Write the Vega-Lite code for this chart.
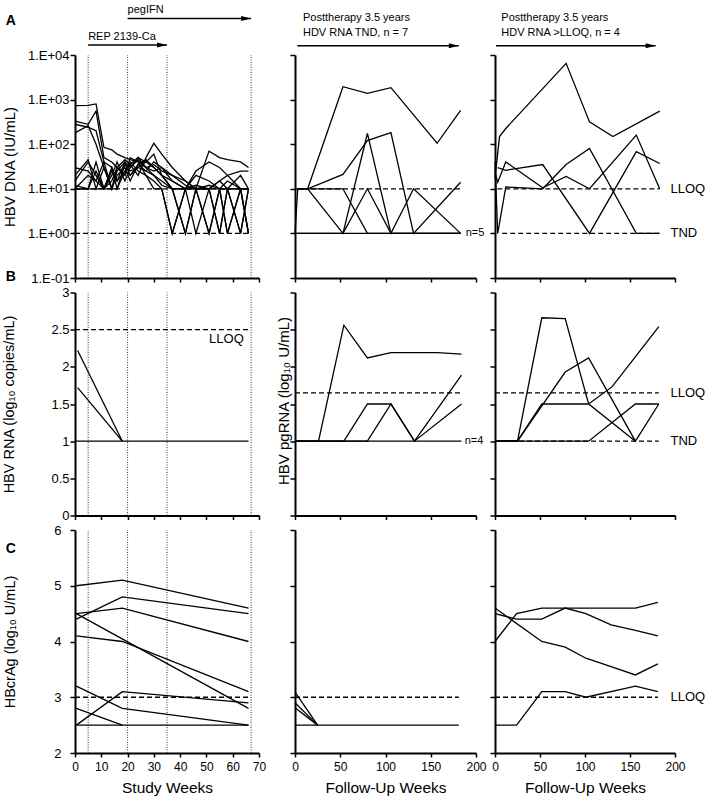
{
"$schema":"https://vega.github.io/schema/vega-lite/v6.json",
"padding":{"left":1,"top":4,"right":0,"bottom":0},
"config":{
 "font":"Liberation Sans",
 "view":{"stroke":null},
 "axis":{"domainColor":"#000","domainWidth":2,"tickColor":"#000","tickWidth":1.5,"tickSize":5,"labelColor":"#000","labelFontSize":13,"titleColor":"#000","titleFontWeight":"normal","grid":false},
 "axisX":{"tickSize":4,"labelFlush":false},
 "axisY":{"labelPadding":1}
},
"bounds":"flush",
"align":"each",
"columns":5,
"spacing":{"row":14.5,"column":0},
"concat":[
  {"width":184,"height":223,
   "encoding":{
    "x":{"field":"w","type":"quantitative","scale":{"domain":[0,70],"nice":false,"zero":false},"axis":{"values":[0,10,20,30,40,50,60,70],"labels":false,"title":null}},
    "y":{"field":"v","type":"quantitative","scale":{"type":"log","domain":[0.1,10000],"nice":false},"axis":{"values":[0.1,1,10,100,1000,10000],"labelExpr":"'1.E' + (datum.value < 1 ? '-' : '+') + '0' + format(abs(log(datum.value)/LN10), '.0f')","title":"HBV DNA (IU/mL)","titleFontSize":15,"titleX":-61,"titleBaseline":"alphabetic","titleAngle":270,"titleAlign":"center"}}
   },
   "layer":[
    {"data":{"values":[{"w":5,"v":0.1,"v2":10000},{"w":20,"v":0.1,"v2":10000},{"w":35,"v":0.1,"v2":10000},{"w":67,"v":0.1,"v2":10000}]},"mark":{"type":"rule","strokeDash":[1,1.5],"strokeWidth":1,"color":"#333"},"encoding":{"y2":{"field":"v2"}}},
    {"data":{"values":[{"w":0,"w2":67,"v":10},{"w":0,"w2":67,"v":1}]},"mark":{"type":"rule","strokeDash":[5,3],"strokeWidth":1.3,"color":"black"},"encoding":{"x2":{"field":"w2"}}},
    {"data":{"values":[
{"p":1,"w":0,"v":730},{"p":1,"w":5,"v":740},{"p":1,"w":8,"v":800},{"p":1,"w":11,"v":85},{"p":1,"w":14,"v":75},{"p":1,"w":16,"v":60},{"p":1,"w":19,"v":50},{"p":1,"w":21,"v":45},{"p":1,"w":24,"v":40},{"p":1,"w":27,"v":30},{"p":1,"w":30,"v":35},{"p":1,"w":33,"v":25},{"p":1,"w":37,"v":20},{"p":1,"w":42,"v":12},{"p":1,"w":46,"v":10},{"p":1,"w":51,"v":12},{"p":1,"w":55,"v":10},{"p":1,"w":58,"v":15},{"p":1,"w":63,"v":10},{"p":1,"w":66,"v":10},
{"p":2,"w":0,"v":330},{"p":2,"w":5,"v":280},{"p":2,"w":8,"v":550},{"p":2,"w":11,"v":50},{"p":2,"w":14,"v":40},{"p":2,"w":16,"v":30},{"p":2,"w":19,"v":45},{"p":2,"w":21,"v":35},{"p":2,"w":24,"v":50},{"p":2,"w":27,"v":40},{"p":2,"w":30,"v":30},{"p":2,"w":33,"v":20},{"p":2,"w":37,"v":10},{"p":2,"w":42,"v":1},{"p":2,"w":46,"v":10},{"p":2,"w":51,"v":10},{"p":2,"w":55,"v":1},{"p":2,"w":58,"v":10},{"p":2,"w":63,"v":10},{"p":2,"w":66,"v":10},
{"p":3,"w":0,"v":280},{"p":3,"w":5,"v":240},{"p":3,"w":8,"v":200},{"p":3,"w":11,"v":40},{"p":3,"w":14,"v":30},{"p":3,"w":16,"v":15},{"p":3,"w":19,"v":25},{"p":3,"w":21,"v":35},{"p":3,"w":24,"v":20},{"p":3,"w":27,"v":50},{"p":3,"w":30,"v":105},{"p":3,"w":33,"v":60},{"p":3,"w":37,"v":30},{"p":3,"w":42,"v":15},{"p":3,"w":46,"v":10},{"p":3,"w":51,"v":70},{"p":3,"w":55,"v":50},{"p":3,"w":58,"v":45},{"p":3,"w":63,"v":40},{"p":3,"w":66,"v":30},
{"p":4,"w":0,"v":180},{"p":4,"w":5,"v":260},{"p":4,"w":8,"v":100},{"p":4,"w":11,"v":30},{"p":4,"w":14,"v":10},{"p":4,"w":16,"v":25},{"p":4,"w":19,"v":40},{"p":4,"w":21,"v":30},{"p":4,"w":24,"v":45},{"p":4,"w":27,"v":30},{"p":4,"w":30,"v":25},{"p":4,"w":33,"v":30},{"p":4,"w":37,"v":15},{"p":4,"w":42,"v":10},{"p":4,"w":46,"v":25},{"p":4,"w":51,"v":40},{"p":4,"w":55,"v":30},{"p":4,"w":58,"v":20},{"p":4,"w":63,"v":25},{"p":4,"w":66,"v":25},
{"p":5,"w":0,"v":15},{"p":5,"w":5,"v":40},{"p":5,"w":8,"v":20},{"p":5,"w":11,"v":10},{"p":5,"w":14,"v":10},{"p":5,"w":16,"v":10},{"p":5,"w":19,"v":35},{"p":5,"w":21,"v":25},{"p":5,"w":24,"v":30},{"p":5,"w":27,"v":40},{"p":5,"w":30,"v":60},{"p":5,"w":33,"v":20},{"p":5,"w":37,"v":10},{"p":5,"w":42,"v":1},{"p":5,"w":46,"v":10},{"p":5,"w":51,"v":1},{"p":5,"w":55,"v":10},{"p":5,"w":58,"v":10},{"p":5,"w":63,"v":1},{"p":5,"w":66,"v":10},
{"p":6,"w":0,"v":10},{"p":6,"w":5,"v":10},{"p":6,"w":8,"v":40},{"p":6,"w":11,"v":10},{"p":6,"w":14,"v":15},{"p":6,"w":16,"v":30},{"p":6,"w":19,"v":20},{"p":6,"w":21,"v":40},{"p":6,"w":24,"v":25},{"p":6,"w":27,"v":20},{"p":6,"w":30,"v":15},{"p":6,"w":33,"v":10},{"p":6,"w":37,"v":1},{"p":6,"w":42,"v":10},{"p":6,"w":46,"v":1},{"p":6,"w":51,"v":10},{"p":6,"w":55,"v":10},{"p":6,"w":58,"v":1},{"p":6,"w":63,"v":10},{"p":6,"w":66,"v":1},
{"p":7,"w":0,"v":12},{"p":7,"w":5,"v":10},{"p":7,"w":8,"v":25},{"p":7,"w":11,"v":10},{"p":7,"w":14,"v":20},{"p":7,"w":16,"v":40},{"p":7,"w":19,"v":15},{"p":7,"w":21,"v":30},{"p":7,"w":24,"v":50},{"p":7,"w":27,"v":30},{"p":7,"w":30,"v":20},{"p":7,"w":33,"v":15},{"p":7,"w":37,"v":10},{"p":7,"w":42,"v":10},{"p":7,"w":46,"v":10},{"p":7,"w":51,"v":1},{"p":7,"w":55,"v":10},{"p":7,"w":58,"v":10},{"p":7,"w":63,"v":10},{"p":7,"w":66,"v":1},
{"p":8,"w":0,"v":20},{"p":8,"w":5,"v":45},{"p":8,"w":8,"v":10},{"p":8,"w":11,"v":30},{"p":8,"w":14,"v":10},{"p":8,"w":16,"v":20},{"p":8,"w":19,"v":30},{"p":8,"w":21,"v":15},{"p":8,"w":24,"v":35},{"p":8,"w":27,"v":45},{"p":8,"w":30,"v":30},{"p":8,"w":33,"v":20},{"p":8,"w":37,"v":15},{"p":8,"w":42,"v":10},{"p":8,"w":46,"v":12},{"p":8,"w":51,"v":10},{"p":8,"w":55,"v":15},{"p":8,"w":58,"v":10},{"p":8,"w":63,"v":20},{"p":8,"w":66,"v":10},
{"p":9,"w":0,"v":10},{"p":9,"w":5,"v":10},{"p":9,"w":8,"v":10},{"p":9,"w":11,"v":10},{"p":9,"w":14,"v":25},{"p":9,"w":16,"v":15},{"p":9,"w":19,"v":40},{"p":9,"w":21,"v":20},{"p":9,"w":24,"v":30},{"p":9,"w":27,"v":25},{"p":9,"w":30,"v":40},{"p":9,"w":33,"v":30},{"p":9,"w":37,"v":20},{"p":9,"w":42,"v":15},{"p":9,"w":46,"v":10},{"p":9,"w":51,"v":10},{"p":9,"w":55,"v":1},{"p":9,"w":58,"v":10},{"p":9,"w":63,"v":1},{"p":9,"w":66,"v":10},
{"p":10,"w":0,"v":30},{"p":10,"w":5,"v":25},{"p":10,"w":8,"v":15},{"p":10,"w":11,"v":40},{"p":10,"w":14,"v":10},{"p":10,"w":16,"v":30},{"p":10,"w":19,"v":20},{"p":10,"w":21,"v":50},{"p":10,"w":24,"v":40},{"p":10,"w":27,"v":20},{"p":10,"w":30,"v":10},{"p":10,"w":33,"v":10},{"p":10,"w":37,"v":1},{"p":10,"w":42,"v":10},{"p":10,"w":46,"v":10},{"p":10,"w":51,"v":10},{"p":10,"w":55,"v":15},{"p":10,"w":58,"v":20},{"p":10,"w":63,"v":10},{"p":10,"w":66,"v":10},
{"p":11,"w":0,"v":10},{"p":11,"w":5,"v":20},{"p":11,"w":8,"v":15},{"p":11,"w":11,"v":10},{"p":11,"w":14,"v":30},{"p":11,"w":16,"v":10},{"p":11,"w":19,"v":25},{"p":11,"w":21,"v":20},{"p":11,"w":24,"v":35},{"p":11,"w":27,"v":25},{"p":11,"w":30,"v":20},{"p":11,"w":33,"v":12},{"p":11,"w":37,"v":10},{"p":11,"w":42,"v":10},{"p":11,"w":46,"v":20},{"p":11,"w":51,"v":15},{"p":11,"w":55,"v":10},{"p":11,"w":58,"v":1},{"p":11,"w":63,"v":10},{"p":11,"w":66,"v":1}
    ]},"mark":{"type":"line","color":"black","strokeWidth":1.3},"encoding":{"detail":{"field":"p","type":"nominal"}}},
    {"data":{"values":[{"w":20,"v":87000,"t":"pegIFN"},{"w":5,"v":21600,"t":"REP 2139-Ca"}]},"mark":{"type":"text","align":"left","baseline":"alphabetic","fontSize":11,"color":"black"},"encoding":{"text":{"field":"t","type":"nominal"}}},
    {"data":{"values":[{"w":20,"w2":67,"v":66000},{"w":5,"w2":35,"v":16700}]},"mark":{"type":"rule","strokeWidth":1.5,"color":"black"},"encoding":{"x2":{"field":"w2"}}},
    {"data":{"values":[{"w":67,"v":66000},{"w":35,"v":16700}]},"mark":{"type":"point","shape":"M-2,-0.5L0,0L-2,0.5Z","filled":true,"size":100,"color":"black","opacity":1,"strokeWidth":0}},
    {"data":{"values":[{"w":-26.3,"v":47000,"t":"A"},{"w":-26.3,"v":0.0865,"t":"B"}]},"mark":{"type":"text","align":"left","baseline":"alphabetic","fontSize":14,"fontWeight":"bold","color":"black"},"encoding":{"text":{"field":"t","type":"nominal"}}}
   ]},
  {"width":36,"height":223,"data":{"values":[]},"mark":{"type":"point","opacity":0}},
  {"width":181,"height":223,
   "encoding":{
    "x":{"field":"w","type":"quantitative","scale":{"domain":[0,200],"nice":false,"zero":false},"axis":{"values":[0,50,100,150,200],"labels":false,"title":null}},
    "y":{"field":"v","type":"quantitative","scale":{"type":"log","domain":[0.1,10000],"nice":false},"axis":{"values":[0.1,1,10,100,1000,10000],"labels":false,"title":null}}
   },
   "layer":[
    {"data":{"values":[{"w":0,"w2":184,"v":10}]},"mark":{"type":"rule","strokeDash":[5,3],"strokeWidth":1.3,"color":"black"},"encoding":{"x2":{"field":"w2"}}},
    {"data":{"values":[
{"p":1,"w":0,"v":1},{"p":1,"w":3,"v":10},{"p":1,"w":14,"v":10},{"p":1,"w":53,"v":1950},{"p":1,"w":80,"v":1380},{"p":1,"w":106,"v":1850},{"p":1,"w":157,"v":105},{"p":1,"w":183,"v":570},
{"p":2,"w":3,"v":10},{"p":2,"w":14,"v":10},{"p":2,"w":53,"v":21},{"p":2,"w":80,"v":120},{"p":2,"w":106,"v":182},{"p":2,"w":131,"v":1},{"p":2,"w":183,"v":14},
{"p":3,"w":3,"v":10},{"p":3,"w":14,"v":10},{"p":3,"w":53,"v":1},{"p":3,"w":80,"v":174},{"p":3,"w":106,"v":1},{"p":3,"w":183,"v":1},
{"p":4,"w":3,"v":10},{"p":4,"w":14,"v":10},{"p":4,"w":53,"v":10},{"p":4,"w":80,"v":1},{"p":4,"w":183,"v":1},
{"p":5,"w":0,"v":1},{"p":5,"w":53,"v":1},{"p":5,"w":80,"v":10},{"p":5,"w":106,"v":1},{"p":5,"w":131,"v":10},{"p":5,"w":183,"v":1},
{"p":6,"w":0,"v":1},{"p":6,"w":183,"v":1}
    ]},"mark":{"type":"line","color":"black","strokeWidth":1.3},"encoding":{"detail":{"field":"p","type":"nominal"}}},
    {"data":{"values":[{"w":8.8,"v":57500,"t":"Posttherapy 3.5 years"},{"w":8.8,"v":26500,"t":"HDV RNA TND, n = 7"}]},"mark":{"type":"text","align":"left","baseline":"alphabetic","fontSize":11,"color":"black"},"encoding":{"text":{"field":"t","type":"nominal"}}},
    {"data":{"values":[{"w":2.6,"w2":181,"v":16100}]},"mark":{"type":"rule","strokeWidth":1.5,"color":"black"},"encoding":{"x2":{"field":"w2"}}},
    {"data":{"values":[{"w":181,"v":16100}]},"mark":{"type":"point","shape":"M-2,-0.5L0,0L-2,0.5Z","filled":true,"size":100,"color":"black","opacity":1,"strokeWidth":0}},
    {"data":{"values":[{"w":188.6,"v":1,"t":"n=5"}]},"mark":{"type":"text","align":"left","baseline":"middle","fontSize":11,"color":"black"},"encoding":{"text":{"field":"t","type":"nominal"}}}
   ]},
  {"width":19,"height":223,"data":{"values":[]},"mark":{"type":"point","opacity":0}},
  {"width":180,"height":223,
   "encoding":{
    "x":{"field":"w","type":"quantitative","scale":{"domain":[0,200],"nice":false,"zero":false},"axis":{"values":[0,50,100,150,200],"labels":false,"title":null}},
    "y":{"field":"v","type":"quantitative","scale":{"type":"log","domain":[0.1,10000],"nice":false},"axis":{"values":[0.1,1,10,100,1000,10000],"labels":false,"title":null}}
   },
   "layer":[
    {"data":{"values":[{"w":2.6,"w2":183,"v":10},{"w":8,"w2":183,"v":1}]},"mark":{"type":"rule","strokeDash":[5,3],"strokeWidth":1.3,"color":"black"},"encoding":{"x2":{"field":"w2"}}},
    {"data":{"values":[
{"p":1,"w":0,"v":17},{"p":1,"w":5,"v":148},{"p":1,"w":12,"v":225},{"p":1,"w":79,"v":6500},{"p":1,"w":105,"v":316},{"p":1,"w":131,"v":148},{"p":1,"w":183,"v":550},
{"p":2,"w":0,"v":24},{"p":2,"w":3,"v":14},{"p":2,"w":12,"v":40},{"p":2,"w":53,"v":10.5},{"p":2,"w":79,"v":19},{"p":2,"w":105,"v":10},{"p":2,"w":157,"v":160},{"p":2,"w":183,"v":10},
{"p":3,"w":3,"v":30},{"p":3,"w":12,"v":26},{"p":3,"w":53,"v":35},{"p":3,"w":105,"v":1},{"p":3,"w":157,"v":68},{"p":3,"w":183,"v":37},
{"p":4,"w":0,"v":40},{"p":4,"w":3,"v":1},{"p":4,"w":12,"v":11},{"p":4,"w":53,"v":10},{"p":4,"w":79,"v":35},{"p":4,"w":105,"v":80},{"p":4,"w":157,"v":1},{"p":4,"w":183,"v":1}
    ]},"mark":{"type":"line","color":"black","strokeWidth":1.3},"encoding":{"detail":{"field":"p","type":"nominal"}}},
    {"data":{"values":[{"w":7,"v":57500,"t":"Posttherapy 3.5 years"},{"w":7,"v":26500,"t":"HDV RNA >LLOQ, n = 4"}]},"mark":{"type":"text","align":"left","baseline":"alphabetic","fontSize":11,"color":"black"},"encoding":{"text":{"field":"t","type":"nominal"}}},
    {"data":{"values":[{"w":1,"w2":178.5,"v":16100}]},"mark":{"type":"rule","strokeWidth":1.5,"color":"black"},"encoding":{"x2":{"field":"w2"}}},
    {"data":{"values":[{"w":178.5,"v":16100}]},"mark":{"type":"point","shape":"M-2,-0.5L0,0L-2,0.5Z","filled":true,"size":100,"color":"black","opacity":1,"strokeWidth":0}},
    {"data":{"values":[{"w":195,"v":10,"t":"LLOQ"},{"w":195,"v":1,"t":"TND"}]},"mark":{"type":"text","align":"left","baseline":"middle","fontSize":13,"color":"black"},"encoding":{"text":{"field":"t","type":"nominal"}}}
   ]},
  {"width":184,"height":223,
   "encoding":{
    "x":{"field":"w","type":"quantitative","scale":{"domain":[0,70],"nice":false,"zero":false},"axis":{"values":[0,10,20,30,40,50,60,70],"labels":false,"title":null}},
    "y":{"field":"v","type":"quantitative","scale":{"domain":[0,3],"nice":false,"zero":false},"axis":{"values":[0,0.5,1,1.5,2,2.5,3],"format":"~g","title":"HBV RNA (log₁₀ copies/mL)","titleFontSize":14.5,"titleX":-62,"titleBaseline":"alphabetic","titleAngle":270,"titleAlign":"center"}}
   },
   "layer":[
    {"data":{"values":[{"w":5,"v":0,"v2":3},{"w":20,"v":0,"v2":3},{"w":35,"v":0,"v2":3},{"w":67,"v":0,"v2":3}]},"mark":{"type":"rule","strokeDash":[1,1.5],"strokeWidth":1,"color":"#333"},"encoding":{"y2":{"field":"v2"}}},
    {"data":{"values":[{"w":0,"w2":66,"v":2.5}]},"mark":{"type":"rule","strokeDash":[5,3],"strokeWidth":1.3,"color":"black"},"encoding":{"x2":{"field":"w2"}}},
    {"data":{"values":[
{"p":1,"w":1,"v":2.22},{"p":1,"w":18,"v":1},
{"p":2,"w":1,"v":1.72},{"p":2,"w":18,"v":1},
{"p":3,"w":0,"v":1},{"p":3,"w":66,"v":1}
    ]},"mark":{"type":"line","color":"black","strokeWidth":1.3},"encoding":{"detail":{"field":"p","type":"nominal"}}},
    {"data":{"values":[{"w":51,"v":2.37,"t":"LLOQ"}]},"mark":{"type":"text","align":"left","baseline":"middle","fontSize":13,"color":"black"},"encoding":{"text":{"field":"t","type":"nominal"}}}
   ]},
  {"width":36,"height":223,"data":{"values":[]},"mark":{"type":"point","opacity":0}},
  {"width":181,"height":223,
   "encoding":{
    "x":{"field":"w","type":"quantitative","scale":{"domain":[0,200],"nice":false,"zero":false},"axis":{"values":[0,50,100,150,200],"labels":false,"title":null}},
    "y":{"field":"v","type":"quantitative","scale":{"domain":[0,3],"nice":false,"zero":false},"axis":{"values":[0,0.5,1,1.5,2,2.5,3],"labels":false,"title":"HBV pgRNA (log₁₀ U/mL)","titleFontSize":15,"titleX":-7,"titleY":108,"titleBaseline":"alphabetic","titleAngle":270,"titleAlign":"center"}}
   },
   "layer":[
    {"data":{"values":[{"w":0,"w2":184,"v":1.65}]},"mark":{"type":"rule","strokeDash":[5,3],"strokeWidth":1.3,"color":"black"},"encoding":{"x2":{"field":"w2"}}},
    {"data":{"values":[
{"p":1,"w":0,"v":1},{"p":1,"w":26,"v":1},{"p":1,"w":54,"v":2.56},{"p":1,"w":80,"v":2.12},{"p":1,"w":106,"v":2.19},{"p":1,"w":157,"v":2.19},{"p":1,"w":184,"v":2.17},
{"p":2,"w":0,"v":1},{"p":2,"w":54,"v":1},{"p":2,"w":80,"v":1.5},{"p":2,"w":106,"v":1.5},{"p":2,"w":132,"v":1},{"p":2,"w":184,"v":1.89},
{"p":3,"w":0,"v":1},{"p":3,"w":80,"v":1},{"p":3,"w":106,"v":1.5},{"p":3,"w":132,"v":1},{"p":3,"w":184,"v":1.5},
{"p":4,"w":0,"v":1},{"p":4,"w":184,"v":1}
    ]},"mark":{"type":"line","color":"black","strokeWidth":1.3},"encoding":{"detail":{"field":"p","type":"nominal"}}},
    {"data":{"values":[{"w":187.5,"v":1,"t":"n=4"}]},"mark":{"type":"text","align":"left","baseline":"middle","fontSize":11,"color":"black"},"encoding":{"text":{"field":"t","type":"nominal"}}}
   ]},
  {"width":19,"height":223,"data":{"values":[]},"mark":{"type":"point","opacity":0}},
  {"width":180,"height":223,
   "encoding":{
    "x":{"field":"w","type":"quantitative","scale":{"domain":[0,200],"nice":false,"zero":false},"axis":{"values":[0,50,100,150,200],"labels":false,"title":null}},
    "y":{"field":"v","type":"quantitative","scale":{"domain":[0,3],"nice":false,"zero":false},"axis":{"values":[0,0.5,1,1.5,2,2.5,3],"labels":false,"title":null}}
   },
   "layer":[
    {"data":{"values":[{"w":0,"w2":182,"v":1.65},{"w":0,"w2":182,"v":1}]},"mark":{"type":"rule","strokeDash":[5,3],"strokeWidth":1.3,"color":"black"},"encoding":{"x2":{"field":"w2"}}},
    {"data":{"values":[
{"p":1,"w":0,"v":1},{"p":1,"w":25,"v":1},{"p":1,"w":52,"v":2.66},{"p":1,"w":78,"v":2.65},{"p":1,"w":104,"v":1.5},{"p":1,"w":130,"v":1.73},{"p":1,"w":182,"v":2.54},
{"p":2,"w":0,"v":1},{"p":2,"w":25,"v":1},{"p":2,"w":78,"v":1.93},{"p":2,"w":104,"v":2.12},{"p":2,"w":156,"v":1},{"p":2,"w":182,"v":1.5},
{"p":3,"w":0,"v":1},{"p":3,"w":25,"v":1},{"p":3,"w":52,"v":1.5},{"p":3,"w":104,"v":1.5},{"p":3,"w":156,"v":1},
{"p":4,"w":0,"v":1},{"p":4,"w":104,"v":1},{"p":4,"w":156,"v":1.5},{"p":4,"w":182,"v":1.5}
    ]},"mark":{"type":"line","color":"black","strokeWidth":1.3},"encoding":{"detail":{"field":"p","type":"nominal"}}},
    {"data":{"values":[{"w":195,"v":1.65,"t":"LLOQ"},{"w":195,"v":1,"t":"TND"}]},"mark":{"type":"text","align":"left","baseline":"middle","fontSize":13,"color":"black"},"encoding":{"text":{"field":"t","type":"nominal"}}}
   ]},
  {"width":184,"height":223,
   "encoding":{
    "x":{"field":"w","type":"quantitative","scale":{"domain":[0,70],"nice":false,"zero":false},"axis":{"values":[0,10,20,30,40,50,60,70],"labelFontSize":12,"labelPadding":4,"title":"Study Weeks","titleFontSize":15.5,"titleY":39,"titleBaseline":"alphabetic"}},
    "y":{"field":"v","type":"quantitative","scale":{"domain":[2,6],"nice":false,"zero":false},"axis":{"values":[2,3,4,5,6],"labelPadding":9,"title":"HBcrAg (log₁₀ U/mL)","titleFontSize":14.5,"titleX":-61,"titleBaseline":"alphabetic","titleAngle":270,"titleAlign":"center"}}
   },
   "layer":[
    {"data":{"values":[{"w":5,"v":2,"v2":6},{"w":20,"v":2,"v2":6},{"w":35,"v":2,"v2":6},{"w":67,"v":2,"v2":6}]},"mark":{"type":"rule","strokeDash":[1,1.5],"strokeWidth":1,"color":"#333"},"encoding":{"y2":{"field":"v2"}}},
    {"data":{"values":[{"w":0,"w2":66,"v":3}]},"mark":{"type":"rule","strokeDash":[5,3],"strokeWidth":1.3,"color":"black"},"encoding":{"x2":{"field":"w2"}}},
    {"data":{"values":[
{"p":1,"w":0.5,"v":5.0},{"p":1,"w":18,"v":5.1},{"p":1,"w":66,"v":4.6},
{"p":2,"w":0.5,"v":4.4},{"p":2,"w":18,"v":4.8},{"p":2,"w":66,"v":4.5},
{"p":3,"w":0.5,"v":4.5},{"p":3,"w":18,"v":4.6},{"p":3,"w":66,"v":4.0},
{"p":4,"w":0.5,"v":4.5},{"p":4,"w":66,"v":2.8},
{"p":5,"w":0.5,"v":4.1},{"p":5,"w":18,"v":4.0},{"p":5,"w":66,"v":3.1},
{"p":6,"w":0.5,"v":3.2},{"p":6,"w":18,"v":2.8},{"p":6,"w":66,"v":2.5},
{"p":7,"w":0.5,"v":2.8},{"p":7,"w":18,"v":2.5},
{"p":8,"w":0.5,"v":2.5},{"p":8,"w":18,"v":3.1},{"p":8,"w":66,"v":2.9},
{"p":9,"w":0.5,"v":2.5},{"p":9,"w":66,"v":2.5}
    ]},"mark":{"type":"line","color":"black","strokeWidth":1.3},"encoding":{"detail":{"field":"p","type":"nominal"}}},
    {"data":{"values":[{"w":-26.3,"v":5.594,"t":"C"}]},"mark":{"type":"text","align":"left","baseline":"alphabetic","fontSize":14,"fontWeight":"bold","color":"black"},"encoding":{"text":{"field":"t","type":"nominal"}}}
   ]},
  {"width":36,"height":223,"data":{"values":[]},"mark":{"type":"point","opacity":0}},
  {"width":181,"height":223,
   "encoding":{
    "x":{"field":"w","type":"quantitative","scale":{"domain":[0,200],"nice":false,"zero":false},"axis":{"values":[0,50,100,150,200],"labelFontSize":12,"labelPadding":4,"title":"Follow-Up Weeks","titleFontSize":15.5,"titleY":39,"titleBaseline":"alphabetic"}},
    "y":{"field":"v","type":"quantitative","scale":{"domain":[2,6],"nice":false,"zero":false},"axis":{"values":[2,3,4,5,6],"labels":false,"title":null}}
   },
   "layer":[
    {"data":{"values":[{"w":0,"w2":181,"v":3}]},"mark":{"type":"rule","strokeDash":[5,3],"strokeWidth":1.3,"color":"black"},"encoding":{"x2":{"field":"w2"}}},
    {"data":{"values":[
{"p":1,"w":0,"v":3.09},{"p":1,"w":25,"v":2.5},
{"p":2,"w":0,"v":2.9},{"p":2,"w":25,"v":2.5},
{"p":3,"w":0,"v":2.81},{"p":3,"w":25,"v":2.5},
{"p":4,"w":0,"v":2.5},{"p":4,"w":181,"v":2.5}
    ]},"mark":{"type":"line","color":"black","strokeWidth":1.3},"encoding":{"detail":{"field":"p","type":"nominal"}}}
   ]},
  {"width":19,"height":223,"data":{"values":[]},"mark":{"type":"point","opacity":0}},
  {"width":180,"height":223,
   "encoding":{
    "x":{"field":"w","type":"quantitative","scale":{"domain":[0,200],"nice":false,"zero":false},"axis":{"values":[0,50,100,150,200],"labelFontSize":12,"labelPadding":4,"title":"Follow-Up Weeks","titleFontSize":15.5,"titleY":39,"titleBaseline":"alphabetic"}},
    "y":{"field":"v","type":"quantitative","scale":{"domain":[2,6],"nice":false,"zero":false},"axis":{"values":[2,3,4,5,6],"labels":false,"title":null}}
   },
   "layer":[
    {"data":{"values":[{"w":0,"w2":181,"v":3}]},"mark":{"type":"rule","strokeDash":[5,3],"strokeWidth":1.3,"color":"black"},"encoding":{"x2":{"field":"w2"}}},
    {"data":{"values":[
{"p":1,"w":0,"v":4.0},{"p":1,"w":24,"v":4.5},{"p":1,"w":52,"v":4.6},{"p":1,"w":156,"v":4.6},{"p":1,"w":181,"v":4.7},
{"p":2,"w":0,"v":4.5},{"p":2,"w":24,"v":4.4},{"p":2,"w":52,"v":4.4},{"p":2,"w":78,"v":4.6},{"p":2,"w":101,"v":4.5},{"p":2,"w":129,"v":4.3},{"p":2,"w":156,"v":4.2},{"p":2,"w":181,"v":4.1},
{"p":3,"w":0,"v":4.6},{"p":3,"w":52,"v":4.0},{"p":3,"w":78,"v":3.9},{"p":3,"w":101,"v":3.7},{"p":3,"w":129,"v":3.55},{"p":3,"w":156,"v":3.4},{"p":3,"w":181,"v":3.6},
{"p":4,"w":0,"v":2.5},{"p":4,"w":24,"v":2.5},{"p":4,"w":52,"v":3.1},{"p":4,"w":78,"v":3.1},{"p":4,"w":101,"v":3.0},{"p":4,"w":156,"v":3.2},{"p":4,"w":181,"v":3.1}
    ]},"mark":{"type":"line","color":"black","strokeWidth":1.3},"encoding":{"detail":{"field":"p","type":"nominal"}}},
    {"data":{"values":[{"w":195,"v":3,"t":"LLOQ"}]},"mark":{"type":"text","align":"left","baseline":"middle","fontSize":13,"color":"black"},"encoding":{"text":{"field":"t","type":"nominal"}}}
   ]}
]
}
